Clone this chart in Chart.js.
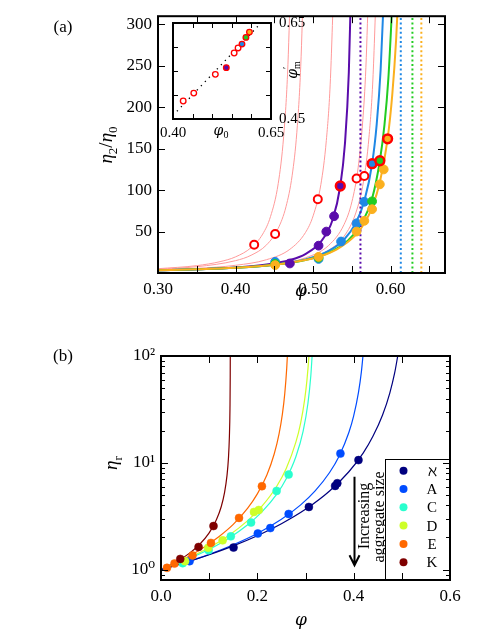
<!DOCTYPE html>
<html>
<head>
<meta charset="utf-8">
<script src="https://cdn.jsdelivr.net/npm/chart.js@4.4.0/dist/chart.umd.min.js"></script>
<style>
  html, body { margin: 0; padding: 0; background: #fff; }
  #wrap { position: relative; width: 477px; height: 644px; }
  canvas { position: absolute; left: 0; }
  #cA, #cIn { top: 0; }
  #cB { top: 322px; }
</style>
</head>
<body>
<div id="wrap">
  <canvas id="cA" width="477" height="322"></canvas>
  <canvas id="cIn" width="477" height="322"></canvas>
  <canvas id="cB" width="477" height="322"></canvas>
</div>
<script>
// ---------- panel (a) data ----------
const phiRed = [0.424, 0.451, 0.506, 0.535, 0.556, 0.566, 0.576, 0.586, 0.596];
const etaRed = [34, 47, 89, 105, 114, 117, 132, 135.5, 162];
const redInner = [null, null, null, 'purple', null, null, 'blue', 'green', 'orange'];

const phiPurple = [0.470, 0.507, 0.517, 0.527];
const etaPurple = [11.5, 33, 50, 68.5];
const phiBlue = [0.451, 0.507, 0.536, 0.556, 0.566];
const etaBlue = [13.5, 17, 38, 60, 86];
const phiGreen = [0.451, 0.507, 0.576];
const etaGreen = [11, 18.5, 86.5];
const phiOrange = [0.451, 0.507, 0.556, 0.566, 0.576, 0.586, 0.591];
const etaOrange = [9.5, 19.5, 50, 63, 77, 107, 125];

// dotted verticals (purple, blue, green, orange)
const phiJam = [0.561, 0.613, 0.628, 0.6395];

// thin red fit curves
const fitPhiRed = [
  [0.30, 0.35, 0.38, 0.40, 0.42, 0.435, 0.445, 0.455, 0.462, 0.467, 0.471],
  [0.30, 0.35, 0.40, 0.42, 0.44, 0.455, 0.465, 0.473, 0.479, 0.484, 0.488],
  [0.30, 0.35, 0.40, 0.44, 0.47, 0.49, 0.50, 0.51, 0.517, 0.522, 0.527],
  [0.30, 0.35, 0.40, 0.45, 0.49, 0.52, 0.54, 0.55, 0.558, 0.564, 0.568, 0.572],
  [0.30, 0.35, 0.40, 0.45, 0.49, 0.52, 0.54, 0.555, 0.565, 0.572, 0.577, 0.582]
];
const fitEtaRed = [
  [5.2, 8.9, 13.7, 19.5, 30.6, 47, 68, 108, 165, 240, 351],
  [4.7, 7.6, 14.9, 21.4, 34, 54, 80, 118, 170, 249, 365],
  [3.8, 5.6, 9.3, 16.1, 28.6, 48.7, 69, 107, 160, 228, 360],
  [3.2, 4.3, 6.4, 10.5, 18.3, 33.3, 58.8, 86, 127, 184, 248, 361],
  [3.1, 4.2, 6.0, 9.7, 16.2, 27.5, 44.5, 72.5, 111, 164, 233, 361]
];
// thick fit curves
const fitPhiPurple = [0.30, 0.35, 0.40, 0.44, 0.47, 0.49, 0.51, 0.525, 0.535, 0.541, 0.546, 0.550];
const fitEtaPurple = [3.2, 4.4, 6.6, 10.2, 15.7, 22.9, 37.8, 64, 105, 156, 242, 386];
const fitPhiBlue = [0.30, 0.35, 0.40, 0.45, 0.49, 0.52, 0.54, 0.555, 0.566, 0.576, 0.582, 0.587, 0.592];
const fitEtaBlue = [3.2, 4.4, 6.3, 10, 16.3, 26.6, 40.5, 60.5, 87, 131.6, 180, 245, 354];
const fitPhiGreen = [0.30, 0.35, 0.40, 0.45, 0.49, 0.52, 0.545, 0.56, 0.576, 0.586, 0.592, 0.597, 0.602];
const fitEtaGreen = [3.25, 4.4, 6.3, 9.9, 15.7, 24.4, 39.4, 56.5, 90, 135.5, 179, 235, 324];
const fitPhiOrange = [0.30, 0.35, 0.40, 0.45, 0.49, 0.507, 0.53, 0.556, 0.566, 0.576, 0.586, 0.596, 0.602, 0.607, 0.611];
const fitEtaOrange = [3.3, 4.5, 6.4, 10, 15.7, 19.7, 28.3, 47, 60, 79, 109.5, 162, 215, 282, 360];

const xTickA = [0.30, 0.40, 0.50, 0.60];
const yTickA = [50, 100, 150, 200, 250, 300];

// ---------- inset data ----------
const phi0 = [0.426, 0.453, 0.508, 0.536, 0.556, 0.566, 0.576, 0.586, 0.595];
const phiMPrime = [0.4875, 0.504, 0.543, 0.557, 0.5875, 0.598, 0.606, 0.620, 0.631];
const guidePhi = [0.41, 0.65];
const guideVal = [0.466, 0.672];
const xTickIn = [0.40, 0.65];
const yTickIn = [0.45, 0.65];

// ---------- panel (b) data ----------
const seriesB = ['ℵ', 'A', 'C', 'D', 'E', 'K'];
const ptPhiB = [
  [0.1506, 0.307, 0.3615, 0.366, 0.41],
  [0.0593, 0.201, 0.227, 0.265, 0.3725],
  [0.045, 0.0988, 0.145, 0.187, 0.240, 0.265],
  [0.05, 0.098, 0.128, 0.193, 0.203],
  [0.0124, 0.028, 0.0655, 0.1037, 0.162, 0.2095],
  [0.040, 0.078, 0.109]
];
const ptEtaB = [
  [1.61, 3.86, 6.08, 6.44, 10.6],
  [1.2, 2.18, 2.45, 3.32, 12.2],
  [1.15, 1.52, 2.05, 2.76, 5.46, 7.77],
  [1.2, 1.6, 1.88, 3.47, 3.62],
  [1.04, 1.14, 1.36, 1.78, 3.05, 6.04],
  [1.26, 1.63, 2.56]
];
const fitPhiB = [
  [0, 0.05, 0.10, 0.15, 0.20, 0.25, 0.30, 0.35, 0.39, 0.42, 0.44, 0.46, 0.475, 0.485, 0.492],
  [0, 0.05, 0.10, 0.15, 0.20, 0.25, 0.29, 0.32, 0.35, 0.37, 0.39, 0.40, 0.41, 0.416, 0.420],
  [0, 0.03, 0.06, 0.10, 0.14, 0.18, 0.21, 0.24, 0.26, 0.28, 0.295, 0.305, 0.311, 0.314],
  [0, 0.03, 0.06, 0.10, 0.14, 0.18, 0.21, 0.24, 0.26, 0.28, 0.29, 0.298, 0.303, 0.307, 0.309],
  [0, 0.03, 0.06, 0.09, 0.12, 0.15, 0.18, 0.20, 0.22, 0.235, 0.245, 0.252, 0.257, 0.261, 0.263],
  [0, 0.02, 0.04, 0.06, 0.08, 0.10, 0.115, 0.125, 0.132, 0.137, 0.140, 0.142, 0.1432, 0.1437, 0.1439]
];
const fitEtaB = [
  [1, 1.164, 1.38, 1.67, 2.08, 2.69, 3.67, 5.45, 8.25, 12.4, 17.7, 28, 45, 69, 103],
  [1, 1.166, 1.39, 1.71, 2.18, 2.96, 4.04, 5.46, 8.12, 11.6, 19.2, 27.5, 45.6, 71, 108],
  [1, 1.122, 1.275, 1.55, 1.96, 2.63, 3.49, 5.06, 7.09, 11.4, 19.7, 35.9, 65, 105],
  [1, 1.133, 1.30, 1.61, 2.08, 2.88, 3.95, 6.01, 8.86, 15.6, 23.7, 38.4, 59.4, 98.6, 142],
  [1, 1.15, 1.35, 1.63, 2.03, 2.65, 3.76, 5.12, 7.74, 12.1, 18.6, 28.6, 44.7, 76.6, 114],
  [1, 1.105, 1.244, 1.435, 1.72, 2.21, 2.93, 3.88, 5.29, 7.58, 11.0, 17.6, 32.4, 62.6, 131]
];
const xTickB = [0.0, 0.2, 0.4, 0.6];
const yTickB = [1, 10, 100];
const yLabB = ['10⁰', '10¹', '10²'];
const arrowPhi = 0.4, arrowFrom = 7.4, arrowTo = 1.1;

// ---------- styles ----------
const SERIF = "'Liberation Serif', 'DejaVu Serif', serif";
const GREEK = "'DejaVu Serif', 'Liberation Serif', serif";
const COL = { purple: '#5a0cab', blue: '#1f88e5', green: '#22cc22', orange: '#fbb01e', red: '#ff0000', thinRed: '#ff9a9a' };
const JET = ['#00007f', '#004cff', '#29ffce', '#ceff29', '#ff6800', '#7f0000'];

Chart.defaults.font.family = SERIF;
Chart.defaults.color = '#000';

const xy = (xs, ys) => xs.map((x, i) => ({ x: x, y: ys[i] }));
const curve = (xs, ys, color, width, order) => ({
  data: xy(xs, ys), showLine: true, borderColor: color, borderWidth: width,
  pointRadius: 0, cubicInterpolationMode: 'monotone', order: order
});
const dots = (xs, ys, fill, edge, r, bw, order) => ({
  data: xy(xs, ys), showLine: false, pointRadius: r, pointBackgroundColor: fill,
  pointBorderColor: edge, pointBorderWidth: bw, order: order
});

// rich text (italic greek, sub/superscripts)
function drawRich(ctx, parts, x, y, size, rot) {
  ctx.save();
  ctx.translate(x, y);
  if (rot) ctx.rotate(rot);
  ctx.textBaseline = 'middle';
  ctx.fillStyle = '#000';
  const fontOf = p => {
    let s = (p.sub || p.sup) ? size * 0.68 : size;
    if (p.gr) s *= 0.9;
    return (p.it ? 'italic ' : '') + Math.round(s) + 'px ' + (p.gr ? GREEK : SERIF);
  };
  let w = 0;
  parts.forEach(p => { ctx.font = fontOf(p); p.w = ctx.measureText(p.t).width; if (!p.noAdv) w += p.w; });
  let cx = -w / 2;
  parts.forEach(p => {
    ctx.font = fontOf(p);
    const dy = p.sub ? size * 0.32 : p.sup ? -size * 0.4 : 0;
    ctx.fillText(p.t, cx, dy);
    if (!p.noAdv) cx += p.w;
  });
  ctx.restore();
}

function textPlugin(items) {
  return { id: 'texts', afterDraw(chart) { items.forEach(it => drawRich(chart.ctx, it.parts, it.x, it.y, it.size, it.rot)); } };
}

// inward ticks on all four sides + heavy frame
function framePlugin(xTicks, yTicks, frameW) {
  return {
    id: 'frame',
    afterDraw(chart) {
      const { ctx, chartArea: a, scales } = chart;
      const yScale = scales.y;
      ctx.save();
      ctx.strokeStyle = '#000';
      ctx.lineWidth = 1;
      ctx.beginPath();
      xTicks.forEach(([v, len]) => {
        const p = Math.round(scales.x.getPixelForValue(v)) + 0.5;
        ctx.moveTo(p, a.bottom); ctx.lineTo(p, a.bottom - len);
        ctx.moveTo(p, a.top); ctx.lineTo(p, a.top + len);
      });
      yTicks.forEach(([v, len]) => {
        const p = Math.round(yScale.getPixelForValue(v)) + 0.5;
        ctx.moveTo(a.left, p); ctx.lineTo(a.left + len, p);
        ctx.moveTo(a.right, p); ctx.lineTo(a.right - len, p);
      });
      ctx.stroke();
      ctx.lineWidth = frameW;
      ctx.strokeRect(a.left, a.top, a.right - a.left, a.bottom - a.top);
      ctx.restore();
    }
  };
}

const whiteBg = {
  id: 'whiteBg',
  beforeDatasetsDraw(chart) {
    const { ctx, chartArea: a } = chart;
    ctx.save(); ctx.fillStyle = '#fff';
    ctx.fillRect(a.left, a.top, a.right - a.left, a.bottom - a.top);
    ctx.restore();
  }
};

function linScale(min, max, ticks, fmt, size, pad, fit, extra) {
  return Object.assign({
    type: 'linear', min: min, max: max,
    afterBuildTicks: s => { s.ticks = ticks.map(v => ({ value: v })); },
    afterFit: fit,
    ticks: { callback: fmt, font: { size: size, family: SERIF }, color: '#000', padding: pad, autoSkip: false, maxRotation: 0 },
    grid: { display: false, drawTicks: false },
    border: { display: false }
  }, extra || {});
}

// ---------- chart (a) ----------
const dsA = [];
fitPhiRed.forEach((xs, i) => dsA.push(curve(xs, fitEtaRed[i], COL.thinRed, 1, 20)));
dsA.push(curve(fitPhiPurple, fitEtaPurple, COL.purple, 2, 15));
dsA.push(curve(fitPhiBlue, fitEtaBlue, COL.blue, 2, 14));
dsA.push(curve(fitPhiGreen, fitEtaGreen, COL.green, 2, 13));
dsA.push(curve(fitPhiOrange, fitEtaOrange, COL.orange, 2, 12));
const jamCols = [COL.purple, COL.blue, COL.green, COL.orange];
phiJam.forEach((p, i) => dsA.push({
  data: [{ x: p, y: 0 }, { x: p, y: 310 }], showLine: true, borderColor: jamCols[i],
  borderWidth: 2, borderDash: [2, 2.6], pointRadius: 0, order: 11
}));
dsA.push(dots(phiPurple, etaPurple, COL.purple, COL.purple, 4.4, 1, 5));
dsA.push(dots(phiBlue, etaBlue, COL.blue, COL.blue, 4.4, 1, 4));
dsA.push(dots(phiGreen, etaGreen, COL.green, COL.green, 4.4, 1, 3));
dsA.push(dots(phiOrange, etaOrange, COL.orange, COL.orange, 4.4, 1, 2));
dsA.push(dots(phiRed, etaRed, redInner.map(c => c ? COL[c] : '#fff'), COL.red,
  redInner.map(c => c ? 4.4 : 4), redInner.map(c => c ? 2.5 : 2), 0));

const xMinorA = [0.30, 0.35, 0.40, 0.45, 0.50, 0.55, 0.60, 0.65].map(v => [v, 7]);
const yMinorA = yTickA.map(v => [v, 7]);

new Chart(document.getElementById('cA'), {
  type: 'scatter',
  data: { datasets: dsA },
  options: {
    responsive: false, animation: false, events: [],
    layout: { padding: { left: 0, top: 14, right: 32, bottom: 0 } },
    plugins: { legend: { display: false }, tooltip: { enabled: false } },
    scales: {
      x: linScale(0.30, 0.67, xTickA, v => v.toFixed(2), 17, 6, s => { s.height = 49; }),
      y: linScale(0, 310, yTickA, v => String(v), 17, 6, s => { s.width = 158; })
    }
  },
  plugins: [framePlugin(xMinorA, yMinorA, 2), textPlugin([
    { parts: [{ t: '(a)' }], x: 63, y: 28, size: 17 },
    { parts: [{ t: 'η', it: true }, { t: '2', sub: true }, { t: '/' }, { t: 'η', it: true }, { t: '0', sub: true }], x: 107, y: 145, size: 19, rot: -Math.PI / 2 },
    { parts: [{ t: 'φ', it: true, gr: true }], x: 301, y: 292, size: 19 }
  ])]
});

// ---------- inset ----------
const dsIn = [
  { data: xy(guidePhi, guideVal), showLine: true, borderColor: '#000', borderWidth: 1.3, borderDash: [1.3, 4.5], pointRadius: 0, order: 5 },
  dots(phi0, phiMPrime, redInner.map(c => c ? COL[c] : '#fff'), COL.red, 2.8, 1.3, 0)
];
new Chart(document.getElementById('cIn'), {
  type: 'scatter',
  data: { datasets: dsIn },
  options: {
    responsive: false, animation: false, events: [],
    layout: { padding: { left: 173, top: 23, right: 166, bottom: 0 } },
    plugins: { legend: { display: false }, tooltip: { enabled: false } },
    scales: {
      x: linScale(0.40, 0.65, xTickIn, v => v.toFixed(2), 15, 5, s => { s.height = 203; }),
      y: linScale(0.45, 0.65, yTickIn, v => v.toFixed(2), 15, 8, s => { s.width = 40; }, { position: 'right' })
    }
  },
  plugins: [whiteBg,
    framePlugin([0.45, 0.50, 0.55, 0.60].map(v => [v, 5]), [0.50, 0.55, 0.60].map(v => [v, 5]), 2),
    textPlugin([
      { parts: [{ t: 'φ', it: true, gr: true }, { t: '0', sub: true }], x: 221, y: 131, size: 15 },
      { parts: [{ t: 'φ', it: true, gr: true }, { t: '′', sup: true, noAdv: true }, { t: 'm', sub: true }], x: 293, y: 70, size: 15, rot: -Math.PI / 2 }
    ])]
});

// ---------- chart (b) ----------
const dsB = [];
seriesB.forEach((name, i) => {
  dsB.push(curve(fitPhiB[i], fitEtaB[i], JET[i], 1.2, 20 + i));
  dsB.push(dots(ptPhiB[i], ptEtaB[i], JET[i], JET[i], 4, 0.5, 10 - i));
});

const minorB = [];
[0.8, 0.9, 2, 3, 4, 5, 6, 7, 8, 9, 20, 30, 40, 50, 60, 70, 80, 90].forEach(v => minorB.push([v, 4]));
yTickB.forEach(v => minorB.push([v, 7]));

const legendArrow = {
  id: 'legendArrow',
  afterDatasetsDraw(chart) {
    const { ctx, scales, chartArea: a } = chart;
    // arrow
    const ax = Math.round(scales.x.getPixelForValue(arrowPhi)) + 0.5;
    const y0 = scales.y.getPixelForValue(arrowFrom);
    const y1 = scales.y.getPixelForValue(arrowTo);
    ctx.save();
    ctx.strokeStyle = '#000';
    ctx.lineWidth = 2;
    ctx.beginPath();
    ctx.moveTo(ax, y0); ctx.lineTo(ax, y1);
    ctx.moveTo(ax - 5, y1 - 10); ctx.lineTo(ax, y1); ctx.lineTo(ax + 5, y1 - 10);
    ctx.stroke();
    ctx.restore();
    drawRich(ctx, [{ t: 'Increasing' }], ax + 10, 194, 15.5, -Math.PI / 2);
    drawRich(ctx, [{ t: 'aggregate size' }], ax + 25, 195, 15.5, -Math.PI / 2);
    // legend box
    const bx = 385, by = 137.5, bw = a.right - bx, bh = a.bottom - by;
    ctx.save();
    ctx.fillStyle = '#fff';
    ctx.fillRect(bx, by, bw, bh);
    ctx.strokeStyle = '#000';
    ctx.lineWidth = 1;
    ctx.strokeRect(bx + 0.5, by, bw, bh);
    seriesB.forEach((name, i) => {
      const ry = 148.7 + i * 18.3;
      ctx.beginPath();
      ctx.arc(403.5, ry, 4, 0, Math.PI * 2);
      ctx.fillStyle = JET[i];
      ctx.fill();
      ctx.fillStyle = '#000';
      ctx.font = '15px ' + SERIF;
      ctx.textAlign = 'center';
      ctx.textBaseline = 'middle';
      ctx.fillText(name, 432, ry + 1);
    });
    ctx.restore();
  }
};

new Chart(document.getElementById('cB'), {
  type: 'scatter',
  data: { datasets: dsB },
  options: {
    responsive: false, animation: false, events: [],
    layout: { padding: { left: 0, top: 34, right: 27, bottom: 0 } },
    plugins: { legend: { display: false }, tooltip: { enabled: false } },
    scales: {
      x: linScale(0, 0.6, xTickB, v => v.toFixed(1), 17, 6, s => { s.height = 64; }),
      y: {
        type: 'logarithmic', min: 0.8, max: 100,
        afterBuildTicks: s => { s.ticks = yTickB.map(v => ({ value: v })); },
        afterFit: s => { s.width = 161; },
        ticks: { callback: v => yLabB[yTickB.indexOf(v)], font: { size: 17, family: SERIF }, color: '#000', padding: 6, autoSkip: false },
        grid: { display: false, drawTicks: false },
        border: { display: false }
      }
    }
  },
  plugins: [legendArrow,
    framePlugin([0.1, 0.2, 0.3, 0.4, 0.5].map(v => [v, 7]), minorB, 2),
    textPlugin([
      { parts: [{ t: '(b)' }], x: 63, y: 35, size: 17 },
      { parts: [{ t: 'η', it: true }, { t: 'r', sub: true }], x: 112, y: 141, size: 19, rot: -Math.PI / 2 },
      { parts: [{ t: 'φ', it: true, gr: true }], x: 301, y: 299, size: 19 }
    ])]
});
</script>
</body>
</html>
